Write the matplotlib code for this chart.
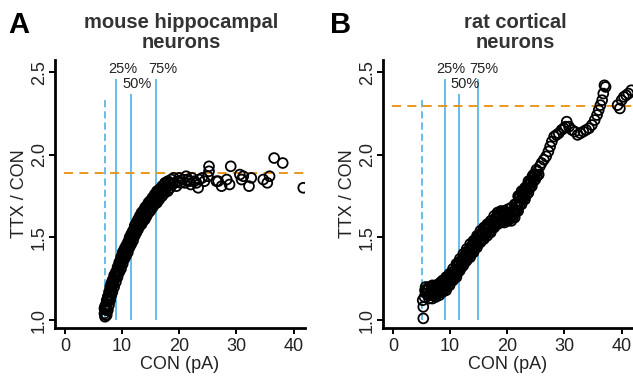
import matplotlib
matplotlib.use("Agg")
import matplotlib.pyplot as plt

plt.rcParams['font.family'] = ['Liberation Sans', 'DejaVu Sans']

# ---------------- data ----------------
mouse_x = [7.0, 6.9, 7.1, 7.2, 7.0, 7.3, 7.4, 7.6, 7.5, 7.8, 7.9, 8.1, 8.0, 8.3, 8.5, 8.4, 8.7,
           8.9, 9.0, 9.2, 9.4, 9.3, 9.6, 9.8, 9.9, 10.1, 10.3, 10.2, 10.5, 10.7, 10.9, 11.0,
           11.3, 11.5, 11.4, 11.7, 11.9, 12.1, 12.0, 12.4, 12.6, 12.5, 12.9, 13.1, 13.3, 13.2,
           13.6, 13.8, 14.1, 14.0, 14.4, 14.6, 14.9, 14.8, 15.2, 15.5, 15.8, 15.7, 16.1, 16.4,
           16.3, 16.8, 17.1, 17.4, 17.2, 17.7, 18.0, 18.4, 18.3, 18.8, 19.2, 19.5, 19.8, 20.2,
           20.6, 21.0, 21.4, 21.8, 22.2, 22.6, 23.0, 23.5, 24.0, 24.4,
           7.2, 7.7, 8.2, 8.8, 9.5, 10.0, 10.6, 11.2, 11.8, 12.3, 12.8, 13.5, 14.2, 15.0,
           15.9, 16.6, 17.5, 18.6, 19.0, 20.0, 21.2, 22.0,
           23.3, 25.2, 25.2, 25.0, 26.5, 26.8, 27.4, 28.3, 28.8, 29.0, 30.6, 30.9, 31.2,
           32.2, 32.6, 34.7, 35.4, 35.8, 36.6, 38.1, 41.7]
mouse_y = [1.02, 1.04, 1.03, 1.06, 1.08, 1.09, 1.11, 1.12, 1.14, 1.15, 1.17, 1.18, 1.20, 1.21, 1.22,
           1.24, 1.25, 1.26, 1.28, 1.29, 1.30, 1.32, 1.33, 1.34, 1.36, 1.37, 1.38, 1.40, 1.41,
           1.42, 1.43, 1.45, 1.46, 1.47, 1.49, 1.50, 1.51, 1.52, 1.54, 1.55, 1.56, 1.58, 1.58,
           1.59, 1.60, 1.62, 1.62, 1.63, 1.64, 1.66, 1.66, 1.67, 1.68, 1.70, 1.70, 1.71, 1.72,
           1.74, 1.74, 1.75, 1.77, 1.77, 1.78, 1.78, 1.80, 1.80, 1.81, 1.80, 1.83, 1.82, 1.83,
           1.81, 1.84, 1.83, 1.85, 1.83, 1.85, 1.84, 1.86, 1.84, 1.83, 1.85, 1.86, 1.84,
           1.07, 1.13, 1.20, 1.27, 1.34, 1.39, 1.43, 1.48, 1.53, 1.57, 1.60, 1.64, 1.68, 1.72,
           1.76, 1.79, 1.82, 1.85, 1.86, 1.86, 1.87, 1.82,
           1.80, 1.93, 1.90, 1.87, 1.84, 1.84, 1.81, 1.85, 1.82, 1.93, 1.88, 1.85, 1.87,
           1.81, 1.86, 1.85, 1.83, 1.87, 1.98, 1.95, 1.80]
# upper-left and lower-right edges of the dense mouse band
mouse_x_upper = [6.9, 7.1, 7.3, 7.5, 7.7, 7.9, 8.1, 8.3, 8.6, 8.9, 9.2, 9.5, 9.8, 10.1, 10.4,
                 10.7, 11.0, 11.3, 11.6, 11.9, 12.2, 12.5, 12.8, 13.1, 13.4, 13.7, 14.0, 14.3,
                 14.6, 14.9, 15.3, 15.7, 16.1, 16.5, 17.0, 17.5, 18.0]
mouse_y_upper = [1.07, 1.09, 1.12, 1.14, 1.17, 1.20, 1.22, 1.24, 1.27, 1.29, 1.32, 1.35, 1.38,
                 1.41, 1.43, 1.45, 1.47, 1.50, 1.52, 1.54, 1.57, 1.59, 1.61, 1.63, 1.65, 1.66,
                 1.68, 1.69, 1.71, 1.72, 1.74, 1.76, 1.78, 1.79, 1.81, 1.83, 1.84]
mouse_x_lower = [7.3, 7.5, 7.7, 7.9, 8.1, 8.3, 8.6, 8.9, 9.2, 9.5, 9.8, 10.1, 10.4, 10.7, 11.0,
                 11.3, 11.6, 11.9, 12.2, 12.5, 12.8, 13.1, 13.4, 13.7, 14.0, 14.3, 14.6, 14.9,
                 15.3, 15.7, 16.1, 16.5, 17.0, 17.5, 18.0]
mouse_y_lower = [1.03, 1.06, 1.09, 1.12, 1.15, 1.17, 1.20, 1.23, 1.26, 1.29, 1.31, 1.34, 1.37,
                 1.39, 1.41, 1.44, 1.46, 1.48, 1.51, 1.53, 1.55, 1.57, 1.58, 1.60, 1.61, 1.63,
                 1.65, 1.66, 1.68, 1.70, 1.71, 1.73, 1.75, 1.77, 1.78]

rat_x = [5.3, 5.3, 5.2, 5.5, 5.8, 5.6, 6.2, 6.6, 7.0, 7.4, 7.8, 8.2, 8.6, 9.0, 9.4, 9.2, 9.8,
         10.2, 10.6, 11.0, 11.4, 11.2, 11.8, 12.2, 12.0, 12.6, 13.0, 12.8, 13.4, 13.8, 14.2,
         14.0, 14.6, 15.0, 14.9, 15.4, 15.8, 16.2, 16.6, 17.0, 17.4, 17.8, 18.2, 18.6, 19.0,
         19.5, 20.0, 20.5, 21.0, 21.4, 21.8, 22.2, 22.6, 23.0, 23.4, 23.8, 24.2, 24.5, 24.9,
         25.3, 25.7, 26.0, 26.4, 26.8, 27.2, 27.5, 27.8, 28.2, 28.6, 29.0, 29.5, 29.9, 30.4,
         30.2, 30.8, 31.3, 31.8, 32.3, 32.8, 33.3, 33.8, 34.3, 34.8, 35.3, 35.7, 36.0, 36.3,
         36.6, 36.8, 37.2, 37.0, 39.3, 39.7, 40.0, 40.4, 40.8, 41.2, 41.7,
         6.0, 6.8, 7.6, 8.4, 9.6, 10.4, 11.6, 12.4, 13.2, 13.6, 14.4, 15.2, 16.0, 16.8,
         17.6, 18.4, 19.2, 20.2, 21.2, 22.0, 22.8, 23.6, 24.4, 25.1]
rat_y = [1.01, 1.08, 1.12, 1.14, 1.16, 1.18, 1.15, 1.17, 1.16, 1.18, 1.17, 1.19, 1.20, 1.21,
         1.22, 1.19, 1.24, 1.25, 1.27, 1.28, 1.30, 1.33, 1.32, 1.34, 1.36, 1.37, 1.39, 1.41,
         1.41, 1.42, 1.44, 1.46, 1.46, 1.48, 1.50, 1.51, 1.52, 1.53, 1.55, 1.56, 1.57, 1.59,
         1.61, 1.63, 1.62, 1.62, 1.63, 1.62, 1.64, 1.66, 1.69, 1.72, 1.74, 1.76, 1.78, 1.80,
         1.83, 1.86, 1.88, 1.90, 1.93, 1.95, 1.97, 1.99, 2.02, 2.05, 2.08, 2.11, 2.12, 2.13,
         2.15, 2.16, 2.20, 2.17, 2.17, 2.15, 2.14, 2.12, 2.13, 2.14, 2.15, 2.16, 2.18, 2.21,
         2.24, 2.27, 2.30, 2.33, 2.37, 2.41, 2.42, 2.30, 2.28, 2.33, 2.35, 2.36, 2.37, 2.39,
         1.19, 1.20, 1.21, 1.23, 1.26, 1.29, 1.35, 1.38, 1.42, 1.40, 1.47, 1.52, 1.55, 1.58,
         1.60, 1.65, 1.65, 1.65, 1.66, 1.74, 1.78, 1.82, 1.87, 1.91]
rat_x_upper = [5.7, 6.3, 6.9, 7.5, 8.1, 8.7, 9.3, 9.9, 10.5, 11.1, 11.7, 12.3, 12.9, 13.5, 14.1,
               14.7, 15.3, 15.9, 16.5, 17.1, 17.7, 18.3, 18.9, 19.5, 20.1, 20.7, 21.3, 21.9,
               22.5, 23.1, 23.7]
rat_y_upper = [1.20, 1.20, 1.21, 1.21, 1.22, 1.24, 1.26, 1.28, 1.31, 1.34, 1.37, 1.40, 1.43,
               1.46, 1.48, 1.51, 1.54, 1.56, 1.58, 1.60, 1.63, 1.65, 1.66, 1.66, 1.67, 1.68,
               1.70, 1.75, 1.78, 1.80, 1.84]
rat_x_lower = [6.3, 6.9, 7.5, 8.1, 8.7, 9.3, 9.9, 10.5, 11.1, 11.7, 12.3, 12.9, 13.5, 14.1,
               14.7, 15.3, 15.9, 16.5, 17.1, 17.7, 18.3, 18.9, 19.5, 20.1, 20.7, 21.3, 21.9,
               22.5, 23.1, 23.7, 24.3, 24.9, 25.5]
rat_y_lower = [1.13, 1.13, 1.14, 1.15, 1.17, 1.18, 1.21, 1.24, 1.26, 1.30, 1.33, 1.36, 1.38,
               1.41, 1.44, 1.47, 1.49, 1.51, 1.53, 1.56, 1.58, 1.59, 1.59, 1.60, 1.60, 1.62,
               1.66, 1.70, 1.73, 1.77, 1.81, 1.85, 1.88]
rat_x_mid1 = [6.0, 6.6, 7.2, 7.8, 8.4, 9.0, 9.6, 10.2, 10.8, 11.4, 12.0, 12.6, 13.2, 13.8, 14.4,
              15.0, 15.6, 16.2, 16.8, 17.4, 18.0, 18.6, 19.2, 19.8, 20.4, 21.0, 21.6, 22.2,
              22.8, 23.4, 24.0, 24.6]
rat_y_mid1 = [1.18, 1.18, 1.19, 1.19, 1.21, 1.23, 1.25, 1.27, 1.30, 1.33, 1.36, 1.39, 1.42,
              1.45, 1.48, 1.51, 1.53, 1.55, 1.57, 1.59, 1.62, 1.64, 1.64, 1.65, 1.65, 1.66,
              1.70, 1.74, 1.77, 1.80, 1.84, 1.88]
rat_x_mid2 = [6.6, 7.2, 7.8, 8.4, 9.0, 9.6, 10.2, 10.8, 11.4, 12.0, 12.6, 13.2, 13.8, 14.4, 15.0,
              15.6, 16.2, 16.8, 17.4, 18.0, 18.6, 19.2, 19.8, 20.4, 21.0, 21.6, 22.2, 22.8,
              23.4, 24.0, 24.6, 25.2]
rat_y_mid2 = [1.15, 1.15, 1.16, 1.17, 1.19, 1.21, 1.24, 1.26, 1.29, 1.32, 1.35, 1.38, 1.41,
              1.44, 1.47, 1.49, 1.52, 1.53, 1.56, 1.58, 1.60, 1.60, 1.61, 1.61, 1.62, 1.66,
              1.70, 1.73, 1.76, 1.80, 1.84, 1.87]

titles = ["mouse hippocampal\nneurons", "rat cortical\nneurons"]
letters = ["A", "B"]
pct_labels = ["25%", "50%", "75%"]
mouse_pct = [9.0, 11.5, 16.0]
rat_pct = [9.1, 11.5, 14.8]
mouse_min = 7.0
rat_min = 5.0
mouse_ratio = 1.89
rat_ratio = 2.295
xticks = [0, 10, 20, 30, 40]
yticks = [1.0, 1.5, 2.0, 2.5]

BLUE = "#5BB8E8"
ORANGE = "#E8900C"

fig = plt.figure(figsize=(6.33, 3.80), dpi=100)
axA = fig.add_axes([55/633, 1-328/380, 250/633, 268/380])
axB = fig.add_axes([383/633, 1-328/380, 250/633, 268/380])

panels = [
    (axA, mouse_x + mouse_x_upper + mouse_x_lower, mouse_y + mouse_y_upper + mouse_y_lower,
     mouse_pct, mouse_min, mouse_ratio),
    (axB, rat_x + rat_x_upper + rat_x_lower + rat_x_mid1 + rat_x_mid2,
     rat_y + rat_y_upper + rat_y_lower + rat_y_mid1 + rat_y_mid2,
     rat_pct, rat_min, rat_ratio),
]
pct_tops = [2.46, 2.37, 2.46]
pct_label_y = [2.52, 2.43, 2.52]

for ax, xs, ys, pct, mn, ratio in panels:
    ax.set_xlim(-1.75, 42.0)
    ax.set_ylim(0.952, 2.573)
    ax.vlines(mn, 1.0, 2.34, colors=BLUE, linestyles=(0, (4, 2.2)), linewidth=1.3, zorder=1)
    for p, top in zip(pct, pct_tops):
        ax.vlines(p, 1.0, top, colors=BLUE, linewidth=1.3, zorder=1)
    ax.hlines(ratio, -0.2, 42.5, colors=ORANGE, linestyles=(0, (5, 3.5)), linewidth=1.3,
              zorder=1)
    ax.scatter(xs, ys, s=50, facecolors='none', edgecolors='black', linewidths=1.3,
               zorder=3, clip_on=True)
    for p, lab, ly in zip(pct, pct_labels, pct_label_y):
        ax.annotate(lab, xy=(p, ly), xytext=(4.5, 0), textcoords='offset points',
                    ha='center', va='center', fontsize=10.5, color='#222222')
    for s in ['top', 'right']:
        ax.spines[s].set_visible(False)
    for s in ['left', 'bottom']:
        ax.spines[s].set_linewidth(2.0)
    ax.set_xticks(xticks)
    ax.set_yticks(yticks)
    ax.set_yticklabels([f"{v:.1f}" for v in yticks], rotation=90, va='center')
    ax.tick_params(axis='both', direction='out', length=4, width=1.4, labelsize=13,
                   color='black', labelcolor='#222222')
    ax.tick_params(axis='x', pad=3)
    ax.tick_params(axis='y', pad=1)
    ax.set_xlabel("CON (pA)", fontsize=13, color='#222222', labelpad=1)
    ax.set_ylabel("TTX / CON", fontsize=13, color='#222222', labelpad=2)

fig.text(181/633, 1-13/380, titles[0], ha='center', va='top', fontsize=14.5,
         fontweight='bold', color='#333333', linespacing=1.08)
fig.text(515/633, 1-13/380, titles[1], ha='center', va='top', fontsize=14.5,
         fontweight='bold', color='#333333', linespacing=1.08)
fig.text(8/633, 1-33/380, letters[0], ha='left', va='baseline', fontsize=21,
         fontweight='bold', color='black')
fig.text(330/633, 1-33/380, letters[1], ha='left', va='baseline', fontsize=21,
         fontweight='bold', color='black')

fig.savefig("out.png", dpi=100)
